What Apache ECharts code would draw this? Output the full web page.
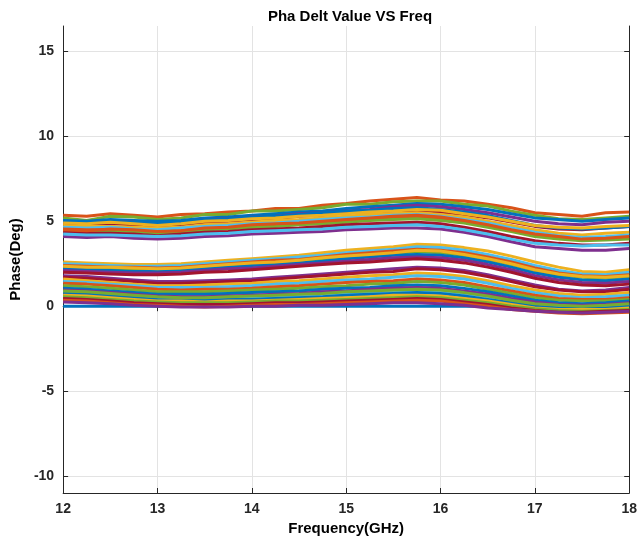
<!DOCTYPE html>
<html>
<head>
<meta charset="utf-8">
<title>Pha Delt Value VS Freq</title>
<script src="https://cdn.jsdelivr.net/npm/echarts@6/dist/echarts.min.js"></script>
<style>
    html, body { margin: 0; padding: 0; background: #fff; }
    #chart { width: 640px; height: 543px; }
</style>
</head>
<body>
<div id="chart"></div>
<script>
// frequency points (GHz)
var freq = [12, 12.25, 12.5, 12.75, 13, 13.25, 13.5, 13.75, 14, 14.25, 14.5, 14.75,
    15, 15.25, 15.5, 15.75, 16, 16.25, 16.5, 16.75, 17, 17.25, 17.5, 17.75, 18];
var yTicks = [-10, -5, 0, 5, 10, 15];

// upper group of curves (around 4..6 deg)
var bandHigh = [
    [5.35, 5.3, 5.45, 5.35, 5.25, 5.4, 5.45, 5.55, 5.6, 5.75, 5.75, 5.95, 6.05, 6.2, 6.3, 6.4, 6.25, 6.2, 6.0, 5.8, 5.5, 5.4, 5.3, 5.5, 5.55],
    [5.2, 5.05, 5.3, 5.25, 5.1, 5.2, 5.4, 5.4, 5.6, 5.6, 5.7, 5.8, 6.0, 6.0, 6.15, 6.2, 6.2, 6.0, 5.9, 5.6, 5.35, 5.15, 5.1, 5.2, 5.3],
    [5.05, 5.0, 5.1, 5.05, 5.0, 5.05, 5.2, 5.25, 5.35, 5.45, 5.55, 5.6, 5.75, 5.85, 5.95, 6.05, 6.0, 5.85, 5.7, 5.45, 5.2, 5.1, 5.0, 5.1, 5.2],
    [4.95, 4.9, 5.0, 4.95, 4.85, 4.95, 5.1, 5.15, 5.25, 5.3, 5.45, 5.5, 5.6, 5.7, 5.85, 5.95, 5.85, 5.7, 5.5, 5.25, 5.0, 4.85, 4.8, 4.95, 5.0],
    [4.85, 4.8, 4.85, 4.8, 4.7, 4.8, 4.95, 5.0, 5.1, 5.15, 5.3, 5.35, 5.5, 5.55, 5.6, 5.65, 5.55, 5.4, 5.2, 4.95, 4.7, 4.55, 4.5, 4.6, 4.7],
    [4.75, 4.7, 4.7, 4.65, 4.6, 4.65, 4.8, 4.85, 4.95, 5.05, 5.1, 5.2, 5.3, 5.4, 5.45, 5.5, 5.4, 5.25, 5.0, 4.75, 4.5, 4.3, 4.2, 4.3, 4.35],
    [4.65, 4.6, 4.65, 4.55, 4.5, 4.6, 4.7, 4.75, 4.85, 4.9, 5.0, 5.1, 5.2, 5.25, 5.35, 5.4, 5.3, 5.1, 4.9, 4.6, 4.35, 4.15, 4.05, 4.1, 4.2],
    [4.55, 4.5, 4.5, 4.45, 4.35, 4.45, 4.55, 4.6, 4.7, 4.8, 4.85, 4.95, 5.05, 5.15, 5.2, 5.25, 5.15, 4.95, 4.7, 4.45, 4.2, 4.0, 3.9, 3.95, 4.0],
    [4.45, 4.4, 4.45, 4.4, 4.3, 4.35, 4.5, 4.55, 4.65, 4.7, 4.8, 4.85, 4.95, 5.05, 5.1, 5.15, 5.05, 4.9, 4.65, 4.4, 4.1, 3.95, 3.85, 3.9, 3.95],
    [4.35, 4.3, 4.3, 4.25, 4.15, 4.25, 4.35, 4.4, 4.5, 4.55, 4.6, 4.7, 4.8, 4.85, 4.9, 4.95, 4.85, 4.65, 4.4, 4.1, 3.85, 3.7, 3.6, 3.6, 3.7],
    [4.5, 4.45, 4.55, 4.5, 4.4, 4.45, 4.6, 4.65, 4.8, 4.85, 4.9, 5.0, 5.1, 5.2, 5.3, 5.35, 5.25, 5.05, 4.8, 4.5, 4.25, 4.1, 3.95, 4.0, 4.1],
    [4.1, 4.05, 4.1, 4.0, 3.95, 4.0, 4.1, 4.15, 4.25, 4.3, 4.35, 4.4, 4.5, 4.55, 4.6, 4.6, 4.55, 4.35, 4.1, 3.8, 3.5, 3.4, 3.3, 3.3, 3.4],
    [4.25, 4.2, 4.2, 4.15, 4.1, 4.15, 4.25, 4.3, 4.4, 4.45, 4.5, 4.55, 4.65, 4.7, 4.75, 4.8, 4.7, 4.5, 4.25, 3.95, 3.7, 3.6, 3.55, 3.6, 3.6],
    [5.0, 4.95, 5.0, 4.95, 4.9, 5.0, 5.1, 5.15, 5.25, 5.3, 5.4, 5.5, 5.6, 5.65, 5.75, 5.8, 5.7, 5.55, 5.35, 5.05, 4.75, 4.6, 4.55, 4.6, 4.7],
    [4.9, 4.85, 4.95, 4.85, 4.75, 4.85, 5.0, 5.05, 5.15, 5.2, 5.3, 5.35, 5.45, 5.55, 5.6, 5.7, 5.65, 5.45, 5.25, 5.0, 4.75, 4.65, 4.6, 4.7, 4.75]
];

// middle group (around 2..3.7 deg)
var bandMid = [
    [2.6, 2.55, 2.5, 2.45, 2.45, 2.5, 2.6, 2.7, 2.8, 2.9, 3.0, 3.15, 3.3, 3.4, 3.5, 3.65, 3.6, 3.45, 3.25, 2.95, 2.6, 2.3, 2.05, 2.0, 2.15],
    [2.5, 2.45, 2.4, 2.35, 2.35, 2.4, 2.5, 2.6, 2.7, 2.8, 2.9, 3.0, 3.15, 3.25, 3.35, 3.5, 3.45, 3.3, 3.05, 2.75, 2.4, 2.1, 1.9, 1.85, 2.0],
    [2.4, 2.35, 2.3, 2.3, 2.25, 2.3, 2.4, 2.5, 2.6, 2.7, 2.75, 2.9, 3.05, 3.15, 3.25, 3.35, 3.3, 3.15, 2.9, 2.6, 2.25, 1.95, 1.8, 1.75, 1.85],
    [2.3, 2.25, 2.2, 2.15, 2.15, 2.2, 2.3, 2.4, 2.5, 2.55, 2.65, 2.8, 2.9, 3.0, 3.1, 3.2, 3.15, 3.0, 2.75, 2.45, 2.1, 1.85, 1.7, 1.65, 1.75],
    [2.2, 2.15, 2.1, 2.05, 2.05, 2.1, 2.2, 2.3, 2.4, 2.45, 2.55, 2.65, 2.8, 2.9, 3.0, 3.05, 3.0, 2.85, 2.6, 2.3, 1.95, 1.7, 1.55, 1.5, 1.6],
    [2.1, 2.05, 2.0, 1.95, 1.95, 2.0, 2.1, 2.2, 2.25, 2.35, 2.45, 2.55, 2.65, 2.75, 2.85, 2.9, 2.85, 2.7, 2.45, 2.15, 1.8, 1.55, 1.4, 1.35, 1.45],
    [2.0, 1.95, 1.9, 1.85, 1.85, 1.9, 2.0, 2.05, 2.15, 2.25, 2.35, 2.45, 2.55, 2.6, 2.7, 2.8, 2.7, 2.55, 2.3, 2.0, 1.65, 1.4, 1.25, 1.2, 1.3],
    [2.35, 2.3, 2.3, 2.25, 2.2, 2.25, 2.35, 2.45, 2.55, 2.6, 2.7, 2.85, 2.95, 3.05, 3.15, 3.3, 3.25, 3.05, 2.8, 2.5, 2.15, 1.9, 1.75, 1.7, 1.8]
];

// lower group (0..2 deg), first one is the reference channel
var bandLow = [
    [0, 0, 0, 0, 0, 0, 0, 0, 0, 0, 0, 0, 0, 0, 0, 0, 0, 0, 0, 0, 0, 0, 0, 0, 0],
    [1.8, 1.75, 1.65, 1.55, 1.45, 1.45, 1.5, 1.55, 1.6, 1.7, 1.8, 1.9, 2.0, 2.1, 2.2, 2.3, 2.25, 2.1, 1.85, 1.55, 1.25, 1.0, 0.9, 0.95, 1.1],
    [1.7, 1.65, 1.55, 1.45, 1.35, 1.35, 1.4, 1.45, 1.5, 1.6, 1.7, 1.8, 1.9, 2.0, 2.05, 2.2, 2.15, 2.0, 1.75, 1.45, 1.15, 0.95, 0.85, 0.85, 1.0],
    [1.6, 1.5, 1.4, 1.3, 1.2, 1.2, 1.25, 1.3, 1.35, 1.45, 1.5, 1.6, 1.7, 1.8, 1.85, 1.95, 1.9, 1.75, 1.5, 1.2, 0.95, 0.75, 0.65, 0.7, 0.8],
    [1.45, 1.4, 1.3, 1.2, 1.1, 1.1, 1.1, 1.15, 1.2, 1.3, 1.35, 1.45, 1.55, 1.6, 1.7, 1.8, 1.75, 1.6, 1.35, 1.05, 0.8, 0.6, 0.5, 0.55, 0.65],
    [1.35, 1.3, 1.2, 1.1, 1.0, 0.95, 1.0, 1.0, 1.05, 1.15, 1.2, 1.3, 1.4, 1.45, 1.5, 1.6, 1.55, 1.4, 1.15, 0.9, 0.65, 0.45, 0.4, 0.4, 0.5],
    [1.2, 1.15, 1.05, 0.95, 0.85, 0.85, 0.85, 0.9, 0.95, 1.0, 1.05, 1.15, 1.2, 1.3, 1.35, 1.45, 1.4, 1.25, 1.0, 0.75, 0.5, 0.35, 0.3, 0.3, 0.4],
    [1.05, 1.0, 0.9, 0.8, 0.7, 0.7, 0.7, 0.75, 0.8, 0.85, 0.9, 1.0, 1.05, 1.1, 1.2, 1.25, 1.2, 1.05, 0.85, 0.6, 0.35, 0.2, 0.15, 0.2, 0.3],
    [0.95, 0.9, 0.8, 0.7, 0.6, 0.55, 0.55, 0.6, 0.65, 0.7, 0.75, 0.85, 0.9, 1.0, 1.05, 1.1, 1.05, 0.9, 0.7, 0.45, 0.25, 0.1, 0.05, 0.1, 0.2],
    [0.85, 0.8, 0.7, 0.6, 0.5, 0.45, 0.45, 0.5, 0.5, 0.55, 0.6, 0.7, 0.75, 0.85, 0.9, 0.95, 0.9, 0.75, 0.55, 0.3, 0.1, 0.0, -0.05, 0.0, 0.1],
    [0.75, 0.7, 0.6, 0.5, 0.4, 0.35, 0.35, 0.4, 0.4, 0.45, 0.5, 0.55, 0.65, 0.7, 0.75, 0.8, 0.75, 0.6, 0.4, 0.2, 0.0, -0.1, -0.15, -0.1, 0.0],
    [0.65, 0.6, 0.5, 0.4, 0.3, 0.3, 0.25, 0.3, 0.3, 0.35, 0.4, 0.45, 0.5, 0.55, 0.65, 0.65, 0.6, 0.45, 0.3, 0.1, -0.1, -0.2, -0.2, -0.2, -0.1],
    [0.55, 0.5, 0.4, 0.3, 0.25, 0.2, 0.2, 0.2, 0.25, 0.3, 0.3, 0.35, 0.4, 0.45, 0.5, 0.55, 0.5, 0.35, 0.2, 0.0, -0.15, -0.25, -0.3, -0.25, -0.2],
    [0.45, 0.4, 0.3, 0.2, 0.15, 0.1, 0.1, 0.1, 0.15, 0.2, 0.2, 0.25, 0.3, 0.35, 0.4, 0.45, 0.4, 0.25, 0.1, -0.1, -0.25, -0.35, -0.35, -0.3, -0.25],
    [0.35, 0.3, 0.2, 0.1, 0.05, 0.0, -0.05, 0.0, 0.05, 0.1, 0.1, 0.15, 0.2, 0.25, 0.3, 0.35, 0.3, 0.15, 0.0, -0.2, -0.3, -0.4, -0.45, -0.4, -0.35],
    [0.25, 0.2, 0.15, 0.05, 0.0, -0.05, -0.05, -0.05, 0.0, 0.0, 0.05, 0.05, 0.1, 0.15, 0.2, 0.2, 0.15, 0.05, -0.1, -0.2, -0.3, -0.35, -0.4, -0.35, -0.3],
    [0.9, 0.85, 0.75, 0.65, 0.55, 0.5, 0.5, 0.55, 0.6, 0.65, 0.7, 0.75, 0.85, 0.9, 0.95, 1.0, 0.95, 0.8, 0.6, 0.35, 0.15, 0.05, 0.0, 0.05, 0.15]
];

var matlabColors = ['#0072BD', '#D95319', '#EDB120', '#7E2F8E', '#77AC30', '#4DBEEE', '#A2142F'];

var chart = echarts.init(document.getElementById('chart'), null, { renderer: 'canvas' });

// mix the three groups so the colour cycle spreads over all of them
var curves = [];
var n = Math.max(bandHigh.length, bandMid.length, bandLow.length);
for (var i = 0; i < n; i++) {
    if (bandLow[i]) curves.push(bandLow[i]);
    if (bandHigh[i]) curves.push(bandHigh[i]);
    if (bandMid[i]) curves.push(bandMid[i]);
}

var series = [];
for (var k = 0; k < curves.length; k++) {
    var pts = [];
    for (var j = 0; j < freq.length; j++) {
        pts.push([freq[j], curves[k][j]]);
    }
    series.push({
        name : 'ch' + (k + 1),
        type : 'line',
        showSymbol : false,
        symbol : 'none',
        lineStyle : { width : 3 },
        emphasis : { disabled : true },
        data : pts
    });
}

var axisColor = '#262626';
var labelFont = { color : '#262626', fontFamily : 'Liberation Sans', fontWeight : 'bold', fontSize : 14 };

var option = {
    animation : false,
    color : matlabColors,
    title : {
        text : 'Pha Delt Value VS Freq',
        left : 345,
        textAlign : 'center',
        top : 4,
        textStyle : { color : '#000', fontFamily : 'Liberation Sans', fontWeight : 'bold', fontSize : 15 }
    },
    grid : { left : 59, right : 9, top : 26, bottom : 50 },
    xAxis : [ {
        type : 'value',
        min : 12,
        max : 18,
        interval : 1,
        name : 'Frequency(GHz)',
        nameLocation : 'middle',
        nameGap : 27,
        nameTextStyle : { color : '#000', fontFamily : 'Liberation Sans', fontWeight : 'bold', fontSize : 15 },
        axisLine : { onZero : false, lineStyle : { color : axisColor, width : 1 } },
        axisTick : { inside : true, length : 5, lineStyle : { color : axisColor } },
        axisLabel : Object.assign({ margin : 9 }, labelFont),
        splitLine : { show : true, lineStyle : { color : '#e3e3e3', width : 1 } }
    }, {
        type : 'value',
        position : 'top',
        min : 12,
        max : 18,
        interval : 1,
        axisLine : { show : true, lineStyle : { color : axisColor, width : 1 } },
        axisTick : { show : true, inside : true, length : 5, lineStyle : { color : axisColor } },
        axisLabel : { show : false },
        splitLine : { show : false }
    } ],
    yAxis : [ {
        type : 'value',
        min : -11,
        max : 16.5,
        name : 'Phase(Deg)',
        nameLocation : 'middle',
        nameGap : 36,
        nameTextStyle : { color : '#000', fontFamily : 'Liberation Sans', fontWeight : 'bold', fontSize : 15 },
        axisLine : { show : true, onZero : false, lineStyle : { color : axisColor, width : 1 } },
        axisTick : { show : true, inside : true, length : 5, customValues : yTicks, lineStyle : { color : axisColor } },
        axisLabel : Object.assign({ margin : 9, customValues : yTicks }, labelFont),
        splitLine : { show : true, lineStyle : { color : '#e3e3e3', width : 1 } }
    }, {
        type : 'value',
        position : 'right',
        min : -11,
        max : 16.5,
        axisLine : { show : true, lineStyle : { color : axisColor, width : 1 } },
        axisTick : { show : true, inside : true, length : 5, customValues : yTicks, lineStyle : { color : axisColor } },
        axisLabel : { show : false },
        splitLine : { show : false }
    } ],
    series : series
};
chart.setOption(option);
</script>
</body>
</html>
